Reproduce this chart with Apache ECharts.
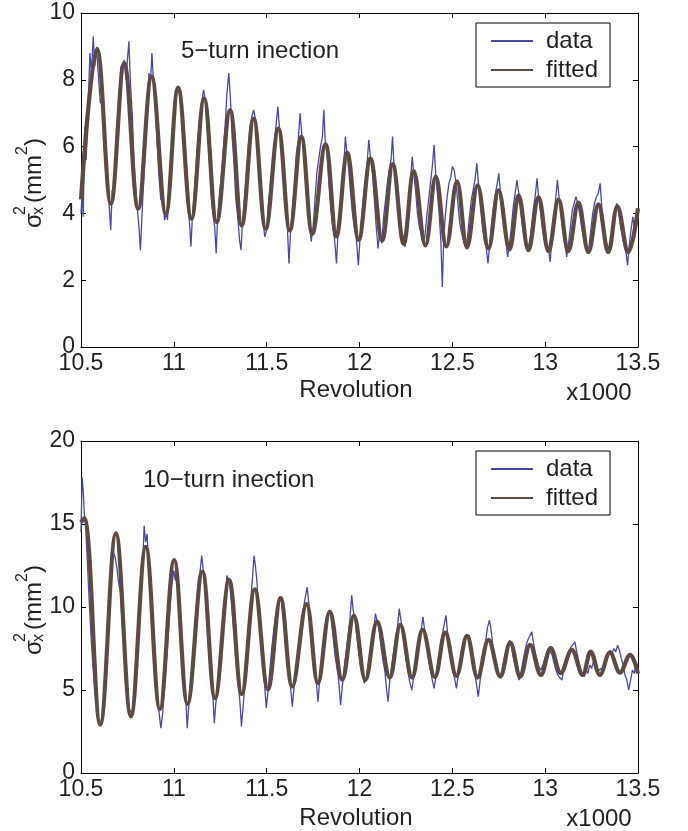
<!DOCTYPE html>
<html><head><meta charset="utf-8">
<script src="https://cdn.jsdelivr.net/npm/echarts@6/dist/echarts.min.js"></script>
<style>html,body{margin:0;padding:0;background:#fff}#c{width:688px;height:831px}</style>
</head><body><div id="c"></div>
<script>
// ---------- data (revolution in thousands, sigma_x^2 in mm^2) ----------
const xTickMin = 10.5, xTickMax = 13.5, xTickStep = 0.5;
const y1Max = 10, y1Step = 2;
const y2Max = 20, y2Step = 5;
const seriesNames = ['data', 'fitted'];
const panelTitles = ['5\u2212turn inection', '10\u2212turn inection'];

// panel 1: fitted curve (peaks / troughs)
const fitted1 = [[10.500,4.42],[10.586,8.93],[10.661,4.29],[10.733,8.50],[10.808,4.14],[10.880,8.10],[10.957,3.99],[11.023,7.77],[11.095,3.84],[11.163,7.44],[11.231,3.74],[11.303,7.09],[11.366,3.64],[11.430,6.84],[11.495,3.54],[11.563,6.54],[11.625,3.49],[11.687,6.29],[11.746,3.39],[11.817,6.07],[11.876,3.31],[11.934,5.81],[11.996,3.21],[12.059,5.64],[12.122,3.19],[12.179,5.47],[12.238,3.09],[12.292,5.27],[12.355,3.04],[12.411,5.10],[12.468,3.01],[12.525,4.96],[12.579,2.98],[12.636,4.84],[12.695,2.95],[12.749,4.69],[12.808,2.92],[12.857,4.54],[12.910,2.90],[12.964,4.49],[13.018,2.87],[13.072,4.41],[13.125,2.87],[13.179,4.32],[13.233,2.84],[13.287,4.27],[13.340,2.84],[13.389,4.21],[13.448,2.84],[13.500,4.15]];

// panel 1: measured data
const measured1 = [[10.500,4.0],[10.506,4.6],[10.512,3.9],[10.520,6.6],[10.528,5.6],[10.538,7.2],[10.548,8.8],[10.556,8.2],[10.566,9.3],[10.574,8.4],[10.584,8.9],[10.594,8.1],[10.604,7.3],[10.614,7.5],[10.624,6.2],[10.634,5.4],[10.644,4.9],[10.652,4.2],[10.660,3.5],[10.668,4.7],[10.676,4.4],[10.686,5.4],[10.694,6.1],[10.704,7.2],[10.714,8.4],[10.722,8.1],[10.732,8.6],[10.742,8.0],[10.750,8.6],[10.758,9.15],[10.766,7.9],[10.776,7.0],[10.786,5.5],[10.796,4.7],[10.804,4.1],[10.812,3.6],[10.820,2.9],[10.828,3.9],[10.838,5.0],[10.848,6.1],[10.858,7.3],[10.866,8.2],[10.874,7.9],[10.882,8.8],[10.890,8.0],[10.900,7.4],[10.910,6.1],[10.920,5.1],[10.930,4.4],[10.940,4.6],[10.950,3.8],[10.958,4.0],[10.966,3.8],[10.976,4.8],[10.986,5.6],[10.996,6.5],[11.006,7.2],[11.016,7.6],[11.026,7.7],[11.036,7.3],[11.046,7.0],[11.056,5.6],[11.066,4.9],[11.076,4.2],[11.086,3.6],[11.092,3.0],[11.100,3.9],[11.110,4.6],[11.120,5.4],[11.130,6.3],[11.140,6.9],[11.150,7.3],[11.160,7.7],[11.170,7.4],[11.180,6.5],[11.190,5.8],[11.200,4.6],[11.210,4.0],[11.220,3.6],[11.228,2.8],[11.236,3.9],[11.246,4.6],[11.256,5.1],[11.266,5.9],[11.276,6.6],[11.286,7.6],[11.296,8.2],[11.304,7.5],[11.314,6.3],[11.324,5.5],[11.334,4.4],[11.344,3.9],[11.354,3.2],[11.362,2.9],[11.370,3.8],[11.380,4.4],[11.390,5.1],[11.400,5.9],[11.410,6.6],[11.420,6.9],[11.430,7.1],[11.440,6.8],[11.450,6.2],[11.460,5.2],[11.470,4.4],[11.480,3.8],[11.490,3.3],[11.500,3.5],[11.510,4.3],[11.520,4.9],[11.530,5.2],[11.540,6.0],[11.550,6.6],[11.560,7.2],[11.570,6.5],[11.580,6.0],[11.590,5.0],[11.600,4.3],[11.610,3.8],[11.620,2.5],[11.630,3.6],[11.640,4.2],[11.650,4.9],[11.660,5.8],[11.670,6.2],[11.680,7.0],[11.690,6.3],[11.700,5.9],[11.710,5.0],[11.720,4.2],[11.730,3.7],[11.740,3.15],[11.750,3.6],[11.760,4.4],[11.770,5.2],[11.780,5.6],[11.790,6.0],[11.800,6.3],[11.808,7.1],[11.816,6.1],[11.826,5.7],[11.836,4.8],[11.846,4.1],[11.856,3.6],[11.866,3.2],[11.876,2.5],[11.884,3.4],[11.894,4.0],[11.904,4.8],[11.914,5.3],[11.924,6.3],[11.932,5.8],[11.942,5.3],[11.952,4.6],[11.962,4.0],[11.972,3.6],[11.982,3.3],[11.994,2.45],[12.002,3.2],[12.012,3.9],[12.022,4.5],[12.032,5.0],[12.042,5.6],[12.050,6.2],[12.060,5.6],[12.070,5.2],[12.080,4.4],[12.090,3.6],[12.100,2.95],[12.110,3.5],[12.120,3.1],[12.130,3.9],[12.140,4.4],[12.150,4.9],[12.160,5.3],[12.170,5.6],[12.178,6.3],[12.186,5.4],[12.196,4.9],[12.206,4.2],[12.216,3.8],[12.226,3.5],[12.236,3.3],[12.246,3.0],[12.256,3.8],[12.266,4.5],[12.276,5.1],[12.284,5.7],[12.292,5.2],[12.302,4.7],[12.312,4.0],[12.322,3.6],[12.332,3.4],[12.342,3.1],[12.352,3.3],[12.362,3.9],[12.372,4.4],[12.382,4.9],[12.392,5.4],[12.402,6.05],[12.410,5.2],[12.420,4.6],[12.430,3.9],[12.438,3.2],[12.446,1.8],[12.454,3.3],[12.462,3.9],[12.472,4.5],[12.482,4.9],[12.492,5.1],[12.500,5.4],[12.510,5.3],[12.520,4.9],[12.530,4.3],[12.540,3.7],[12.550,3.4],[12.560,3.2],[12.572,3.0],[12.582,3.3],[12.592,3.9],[12.602,4.4],[12.612,4.7],[12.622,5.0],[12.632,5.5],[12.642,4.8],[12.652,4.2],[12.662,3.6],[12.672,3.2],[12.682,3.0],[12.692,2.5],[12.702,3.1],[12.712,3.7],[12.722,4.2],[12.732,4.6],[12.742,4.9],[12.750,5.2],[12.758,4.7],[12.768,4.1],[12.778,3.6],[12.788,3.2],[12.798,2.7],[12.808,3.1],[12.818,3.6],[12.828,4.2],[12.838,4.6],[12.848,5.0],[12.858,4.6],[12.868,4.1],[12.878,3.6],[12.888,3.3],[12.898,3.0],[12.908,2.9],[12.918,3.2],[12.928,3.7],[12.938,4.2],[12.948,4.6],[12.956,5.05],[12.966,4.4],[12.976,4.0],[12.986,3.5],[12.996,3.2],[13.006,3.0],[13.018,2.95],[13.027,2.55],[13.036,3.2],[13.046,3.8],[13.056,4.4],[13.066,5.0],[13.076,4.4],[13.086,3.9],[13.096,3.5],[13.106,3.1],[13.116,2.7],[13.126,3.1],[13.136,3.6],[13.146,4.1],[13.156,4.3],[13.166,4.5],[13.176,4.3],[13.186,4.0],[13.196,3.6],[13.206,3.3],[13.216,3.0],[13.226,2.9],[13.236,3.0],[13.246,3.5],[13.256,4.0],[13.266,4.3],[13.276,4.5],[13.286,4.6],[13.296,4.9],[13.306,4.1],[13.316,3.6],[13.326,3.2],[13.336,3.0],[13.346,2.9],[13.356,3.2],[13.366,3.7],[13.376,4.1],[13.386,4.3],[13.396,4.0],[13.406,3.6],[13.416,3.3],[13.426,3.0],[13.436,2.8],[13.444,2.45],[13.452,3.0],[13.462,3.5],[13.472,3.9],[13.482,3.5],[13.492,3.9],[13.500,3.7]];

// panel 2: fitted curve
const fitted2 = [[10.500,15.1],[10.518,15.35],[10.604,2.91],[10.688,14.44],[10.769,3.41],[10.849,13.63],[10.925,3.85],[11.002,12.83],[11.074,4.17],[11.154,12.13],[11.222,4.51],[11.298,11.63],[11.366,4.76],[11.436,11.07],[11.507,5.05],[11.575,10.53],[11.638,5.21],[11.715,10.19],[11.776,5.41],[11.840,9.72],[11.907,5.61],[11.970,9.48],[12.032,5.61],[12.095,9.12],[12.163,5.75],[12.220,8.92],[12.283,5.75],[12.340,8.62],[12.406,5.78],[12.462,8.46],[12.522,5.85],[12.579,8.26],[12.636,5.75],[12.695,8.02],[12.758,5.81],[12.812,7.86],[12.866,5.81],[12.919,7.72],[12.977,5.91],[13.030,7.52],[13.084,6.02],[13.143,7.42],[13.202,5.91],[13.245,7.32],[13.295,5.91],[13.349,7.26],[13.403,6.05],[13.457,7.12],[13.500,6.0]];

// panel 2: measured data
const measured2 = [[10.500,14.5],[10.506,17.8],[10.512,17.0],[10.518,15.6],[10.526,14.6],[10.534,12.8],[10.544,10.4],[10.554,8.2],[10.564,6.5],[10.574,5.0],[10.584,4.0],[10.594,3.2],[10.604,2.9],[10.614,3.5],[10.624,4.8],[10.634,6.7],[10.644,8.5],[10.654,10.5],[10.664,12.2],[10.674,13.3],[10.684,13.0],[10.694,12.3],[10.702,11.5],[10.712,10.9],[10.722,9.0],[10.732,7.5],[10.742,5.9],[10.752,4.5],[10.762,3.8],[10.772,3.6],[10.782,4.1],[10.792,5.5],[10.802,7.3],[10.812,9.0],[10.822,10.8],[10.832,12.5],[10.840,14.9],[10.848,13.9],[10.856,14.4],[10.864,12.6],[10.874,10.5],[10.884,8.7],[10.894,6.7],[10.904,5.2],[10.914,4.2],[10.922,3.5],[10.930,2.7],[10.940,3.6],[10.950,5.1],[10.960,6.7],[10.970,8.3],[10.980,10.1],[10.990,11.4],[11.000,12.2],[11.008,11.6],[11.016,12.3],[11.026,10.6],[11.036,9.3],[11.046,7.2],[11.056,5.4],[11.064,4.6],[11.072,2.7],[11.082,4.3],[11.092,5.6],[11.102,7.1],[11.112,8.6],[11.122,10.2],[11.132,11.6],[11.142,12.2],[11.150,13.1],[11.158,12.3],[11.168,11.5],[11.178,9.5],[11.188,8.0],[11.198,6.5],[11.208,5.2],[11.218,3.0],[11.226,4.2],[11.236,5.0],[11.246,6.5],[11.256,8.0],[11.266,9.4],[11.276,10.6],[11.286,11.9],[11.296,11.6],[11.306,10.8],[11.316,9.4],[11.326,8.1],[11.336,6.6],[11.346,5.4],[11.356,4.3],[11.364,2.8],[11.374,4.1],[11.384,5.6],[11.394,7.2],[11.404,8.7],[11.414,10.4],[11.424,11.8],[11.432,13.1],[11.440,12.4],[11.448,11.5],[11.458,9.6],[11.468,8.0],[11.478,6.6],[11.488,5.5],[11.498,3.9],[11.508,5.0],[11.518,6.3],[11.528,7.6],[11.538,8.6],[11.548,9.5],[11.558,10.0],[11.568,10.6],[11.578,10.4],[11.588,9.6],[11.598,8.4],[11.608,7.0],[11.618,5.9],[11.628,5.3],[11.638,4.0],[11.648,5.2],[11.658,6.3],[11.668,7.3],[11.678,8.3],[11.688,9.1],[11.698,9.9],[11.708,10.6],[11.718,11.2],[11.728,10.1],[11.738,8.8],[11.748,7.5],[11.758,6.2],[11.768,5.4],[11.776,4.3],[11.786,5.6],[11.796,6.7],[11.806,7.9],[11.816,8.7],[11.826,9.3],[11.836,9.8],[11.846,9.4],[11.856,8.4],[11.866,7.3],[11.876,6.5],[11.886,5.8],[11.898,4.1],[11.908,5.3],[11.918,6.4],[11.928,7.3],[11.938,8.2],[11.948,9.2],[11.958,10.7],[11.966,9.8],[11.976,9.2],[11.986,8.2],[11.996,7.3],[12.006,6.4],[12.016,5.9],[12.026,5.4],[12.036,5.7],[12.046,6.4],[12.056,7.2],[12.066,7.9],[12.076,8.5],[12.086,9.6],[12.096,9.1],[12.106,8.6],[12.116,7.6],[12.126,6.8],[12.136,6.2],[12.146,5.0],[12.154,4.3],[12.164,5.7],[12.174,6.5],[12.184,7.3],[12.194,8.0],[12.204,8.7],[12.214,9.9],[12.222,9.3],[12.232,8.6],[12.242,7.6],[12.252,6.8],[12.262,6.0],[12.272,5.4],[12.282,5.0],[12.292,5.8],[12.302,6.5],[12.312,7.3],[12.322,8.0],[12.332,8.6],[12.342,9.4],[12.352,8.5],[12.362,7.7],[12.372,6.9],[12.382,6.2],[12.392,5.6],[12.402,5.1],[12.412,5.8],[12.422,6.6],[12.432,7.4],[12.442,8.1],[12.452,8.7],[12.466,9.5],[12.474,8.5],[12.484,7.6],[12.494,6.8],[12.504,6.1],[12.514,5.6],[12.522,5.1],[12.532,5.9],[12.542,6.6],[12.552,7.3],[12.562,7.9],[12.572,8.3],[12.582,8.1],[12.592,8.3],[12.602,7.5],[12.612,6.7],[12.622,5.9],[12.632,5.2],[12.640,4.6],[12.650,5.6],[12.660,6.4],[12.670,7.2],[12.680,8.0],[12.690,8.8],[12.700,9.2],[12.708,8.7],[12.718,7.7],[12.728,6.9],[12.738,6.3],[12.748,6.0],[12.758,5.8],[12.768,6.2],[12.778,6.8],[12.788,7.3],[12.798,7.7],[12.808,8.0],[12.818,7.6],[12.828,7.0],[12.838,6.5],[12.848,6.0],[12.860,5.6],[12.870,6.1],[12.880,6.7],[12.890,7.3],[12.900,7.8],[12.910,8.1],[12.928,8.5],[12.936,7.9],[12.946,7.3],[12.956,6.8],[12.966,6.4],[12.978,6.2],[12.988,6.5],[12.998,6.9],[13.008,7.2],[13.018,7.5],[13.028,7.4],[13.038,7.1],[13.048,6.6],[13.058,6.2],[13.068,5.9],[13.078,5.8],[13.090,5.6],[13.100,6.2],[13.110,6.6],[13.120,7.0],[13.130,7.4],[13.140,7.6],[13.150,7.6],[13.160,7.9],[13.170,7.3],[13.180,6.8],[13.190,6.3],[13.200,6.0],[13.210,5.8],[13.220,6.2],[13.230,6.0],[13.240,6.5],[13.250,6.3],[13.260,6.7],[13.270,6.5],[13.280,6.1],[13.290,6.0],[13.300,6.3],[13.310,6.1],[13.320,6.6],[13.330,6.9],[13.340,7.1],[13.350,7.4],[13.360,7.2],[13.370,7.5],[13.380,7.3],[13.390,7.7],[13.400,7.4],[13.410,6.9],[13.420,6.5],[13.430,5.9],[13.440,5.6],[13.450,5.0],[13.460,5.6],[13.470,6.2],[13.480,6.0],[13.490,6.6],[13.500,6.5]];

// ---------- chart ----------
const FONT = '"Liberation Sans", Arial, Helvetica, sans-serif';
const TXT = '#231f20';
const DATA_COLOR = '#4848a8';
const FIT_COLOR = '#5c4a43';
const TICK_FS = 23, TEXT_FS = 24;
const grids = [
  {left: 81, top: 13, width: 557, height: 334},
  {left: 81, top: 441, width: 557, height: 332}
];
const yMax = [y1Max, y2Max], yStep = [y1Step, y2Step];

const xAxes = [], yAxes = [];
grids.forEach((g, i) => {
  const lineS = {show: true, onZero: false, lineStyle: {color: '#000', width: 1}};
  const tickS = {show: true, inside: true, length: 5, lineStyle: {color: '#000', width: 1}};
  xAxes.push({type: 'value', gridIndex: i, position: 'bottom', min: xTickMin, max: xTickMax, interval: xTickStep,
    axisLine: lineS, axisTick: tickS, splitLine: {show: false},
    axisLabel: {show: true, margin: 5, fontSize: TICK_FS, fontFamily: FONT, color: TXT, showMaxLabel: true, showMinLabel: true}});
  xAxes.push({type: 'value', gridIndex: i, position: 'top', min: xTickMin, max: xTickMax, interval: xTickStep,
    axisLine: lineS, axisTick: tickS, splitLine: {show: false}, axisLabel: {show: false}});
  yAxes.push({type: 'value', gridIndex: i, position: 'left', min: 0, max: yMax[i], interval: yStep[i],
    axisLine: lineS, axisTick: tickS, splitLine: {show: false},
    axisLabel: {show: true, margin: 6, fontSize: TICK_FS, fontFamily: FONT, color: TXT}});
  yAxes.push({type: 'value', gridIndex: i, position: 'right', min: 0, max: yMax[i], interval: yStep[i],
    axisLine: lineS, axisTick: tickS, splitLine: {show: false}, axisLabel: {show: false}});
});

function mkSeries(name, data, xi, yi, isFit) {
  return {
    name: name, type: 'line', xAxisIndex: xi, yAxisIndex: yi, data: data,
    showSymbol: false, symbol: 'none', smooth: isFit ? 0.38 : false,
    animation: false, z: isFit ? 3 : 2,
    lineStyle: {color: isFit ? FIT_COLOR : DATA_COLOR, width: isFit ? 4.2 : 1.3},
    itemStyle: {color: isFit ? FIT_COLOR : DATA_COLOR}
  };
}

function yLabel(cx, cy) {
  const base = {fill: TXT, fontFamily: FONT, verticalAlign: 'middle', align: 'left'};
  return {
    type: 'group', x: cx, y: cy, rotation: Math.PI / 2,
    children: [
      {type: 'text', x: -48, y: 0, style: Object.assign({text: '\u03c3', fontSize: 24}, base)},
      {type: 'text', x: -35, y: -13, style: Object.assign({text: '2', fontSize: 16}, base)},
      {type: 'text', x: -35, y: 5, style: Object.assign({text: 'x', fontSize: 16}, base)},
      {type: 'text', x: -23, y: 0, style: Object.assign({text: '(mm', fontSize: 24}, base)},
      {type: 'text', x: 25, y: -11, style: Object.assign({text: '2', fontSize: 16}, base)},
      {type: 'text', x: 34, y: 0, style: Object.assign({text: ')', fontSize: 24}, base)}
    ]
  };
}
function txt(x, y, s, align) {
  return {type: 'text', x: x, y: y, style: {text: s, fill: TXT, fontFamily: FONT, fontSize: TEXT_FS,
    align: align || 'left', verticalAlign: 'middle'}};
}

function legendCfg(top) {
  return {
    data: seriesNames, orient: 'vertical', left: 476, top: top,
    itemWidth: 42, itemHeight: 12, itemGap: 5,
    padding: [6, 12, 5, 14],
    borderColor: '#000', borderWidth: 1, backgroundColor: '#fff',
    itemStyle: {opacity: 0},
    textStyle: {fontSize: TEXT_FS, fontFamily: FONT, color: TXT, padding: [0, 0, 0, 8]},
    selectedMode: false
  };
}

const option = {
  animation: false,
  backgroundColor: '#fff',
  grid: grids,
  xAxis: xAxes,
  yAxis: yAxes,
  legend: [legendCfg(23), legendCfg(451)],
  series: [
    mkSeries(seriesNames[0], measured1, 0, 0, false),
    mkSeries(seriesNames[1], fitted1, 0, 0, true),
    mkSeries(seriesNames[0], measured2, 2, 2, false),
    mkSeries(seriesNames[1], fitted2, 2, 2, true)
  ],
  graphic: [
    yLabel(34, 180), yLabel(34, 607),
    txt(181, 51, panelTitles[0]), txt(143, 480, panelTitles[1]),
    txt(356, 390, 'Revolution', 'center'), txt(599, 393, 'x1000', 'center'),
    txt(356, 818, 'Revolution', 'center'), txt(599, 819, 'x1000', 'center')
  ]
};
const chart = echarts.init(document.getElementById('c'), null, {renderer: 'canvas'});
chart.setOption(option);
</script></body></html>
